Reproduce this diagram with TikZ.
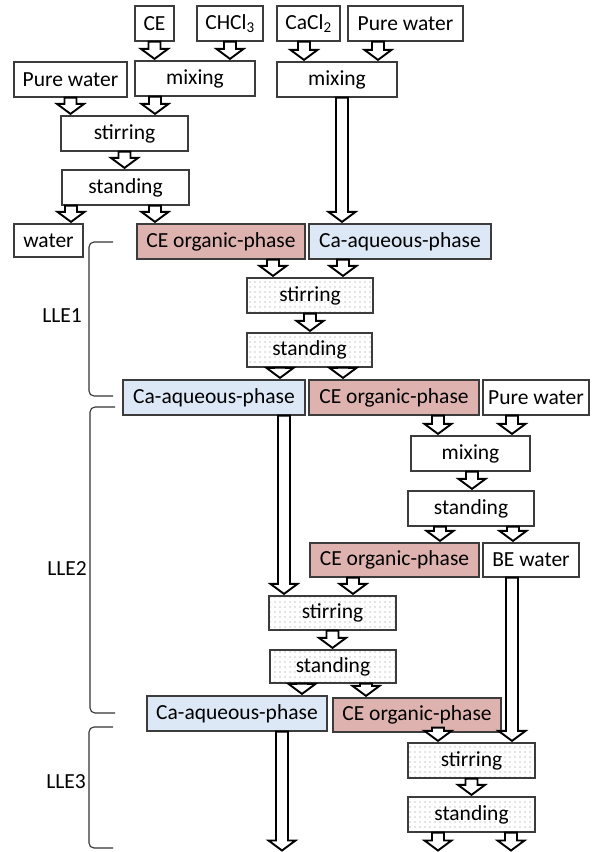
\documentclass[tikz,border=0pt]{standalone}
\usepackage{fontspec}
\setmainfont{Carlito}
\usetikzlibrary{calc,patterns.meta}
\definecolor{orgpink}{RGB}{222,179,175}
\definecolor{aqblue}{RGB}{220,232,246}
\definecolor{boxline}{RGB}{60,60,60}
\tikzset{
  box/.style={draw=boxline, line width=1.2pt, inner sep=0pt, anchor=center,
    font=\fontsize{21.5}{25}\selectfont, fill=white},
  dotbox/.style={box, fill=none, pattern={Dots[distance=5pt,radius=0.55pt]}, pattern color=black!45},
  orgbox/.style={box, fill=orgpink},
  aqbox/.style={box, fill=aqblue},
  lbl/.style={font=\fontsize{21.5}{25}\selectfont, inner sep=0pt},
  brace/.style={draw=black!80, line width=1.1pt, rounded corners=5pt},
  barrow/.style={draw=black, line width=1.9pt, fill=white, line join=miter,
    to path={let \p1=(\tikztostart), \p2=(\tikztotarget) in
      (\x1-6pt,\y1) -- (\x1-6pt,\y2+11.5pt) -- (\x1-13.5pt,\y2+11.5pt) -- (\x1,\y2+1.5pt)
      -- (\x1+13.5pt,\y2+11.5pt) -- (\x1+6pt,\y2+11.5pt) -- (\x1+6pt,\y1) -- cycle}},
}
\begin{document}
\begin{tikzpicture}[x=1pt,y=-1pt]
\useasboundingbox (0,0) rectangle (592,852);
% top
\node[box, minimum width=39pt, minimum height=35pt] (ce) at (154.5,23.5) {CE};
\node[box, minimum width=66pt, minimum height=35pt] (chcl) at (230,23.5) {CHCl\textsubscript{3}};
\node[box, minimum width=63pt, minimum height=35pt] (cacl) at (308.5,23.5) {CaCl\textsubscript{2}};
\node[box, minimum width=115pt, minimum height=35pt] (pw1) at (405.5,23.5) {Pure water};
\node[box, minimum width=113pt, minimum height=35pt] (pw0) at (70.5,79.5) {Pure water};
\node[box, minimum width=120pt, minimum height=35pt] (mix1) at (195,78.5) {mixing};
\node[box, minimum width=120pt, minimum height=35pt] (mix2) at (337,79.5) {mixing};
\node[box, minimum width=127pt, minimum height=35pt] (stir0) at (124.5,133.5) {stirring};
\node[box, minimum width=127pt, minimum height=35pt] (stand0) at (125.5,187.5) {standing};
\node[box, minimum width=69pt, minimum height=33pt] (water) at (48.5,240.5) {water};
% LLE1
\node[orgbox, minimum width=168pt, minimum height=35pt] (ceo1) at (221,241.5) {CE organic-phase};
\node[aqbox, minimum width=182pt, minimum height=35pt] (caq1) at (400,241.5) {Ca-aqueous-phase};
\node[dotbox, minimum width=126pt, minimum height=35pt] (stirA) at (310,295.5) {stirring};
\node[dotbox, minimum width=125pt, minimum height=34pt] (standA) at (309.5,350) {standing};
% LLE2
\node[aqbox, minimum width=182pt, minimum height=35pt] (caq2) at (214,397.5) {Ca-aqueous-phase};
\node[orgbox, minimum width=170pt, minimum height=35pt] (ceo2) at (394,397.5) {CE organic-phase};
\node[box, minimum width=106pt, minimum height=35pt] (pw2) at (536,397.5) {Pure water};
\node[box, minimum width=119pt, minimum height=35pt] (mixB) at (470.5,453.5) {mixing};
\node[box, minimum width=126pt, minimum height=35pt] (standB) at (471,508.5) {standing};
\node[orgbox, minimum width=169pt, minimum height=34pt] (ceo3) at (394.5,560) {CE organic-phase};
\node[box, minimum width=96pt, minimum height=34pt] (bew) at (531,560) {BE water};
\node[dotbox, minimum width=127pt, minimum height=34pt] (stirB) at (332.5,613) {stirring};
\node[dotbox, minimum width=126pt, minimum height=33pt] (standB2) at (333,666.5) {standing};
% LLE3
\node[aqbox, minimum width=180pt, minimum height=35pt] (caq3) at (237,713.5) {Ca-aqueous-phase};
\node[orgbox, minimum width=168pt, minimum height=34pt] (ceo4) at (417,715) {CE organic-phase};
\node[dotbox, minimum width=127pt, minimum height=35pt] (stirC) at (471.5,760.5) {stirring};
\node[dotbox, minimum width=127pt, minimum height=35pt] (standC) at (471.5,814.5) {standing};
\coordinate (o1) at (438,852);
\coordinate (o2) at (511,852);
\coordinate (o3) at (282,852);
% braces and labels
\draw[brace] (113,242) -- (89,242) -- (89,396) -- (113,396);
\draw[brace] (115,407) -- (90,407) -- (90,713) -- (115,713);
\draw[brace] (113,727) -- (89,727) -- (89,848) -- (113,848);
\node[lbl] (l1) at (62,316) {LLE1};
\node[lbl] (l2) at (67,569) {LLE2};
\node[lbl] (l3) at (66,782) {LLE3};
% arrows
\draw[barrow] (ce.south) to (mix1.north);
\draw[barrow] (chcl.south) to (mix1.north);
\draw[barrow] ([xshift=-4.5pt]cacl.south) to (mix2.north);
\draw[barrow] ([xshift=-27.5pt]pw1.south) to (mix2.north);
\draw[barrow] (pw0.south) to (stir0.north);
\draw[barrow] ([xshift=-40pt]mix1.south) to (stir0.north);
\draw[barrow] (stir0.south) to (stand0.north);
\draw[barrow] ([xshift=-54.5pt]stand0.south) to (water.north);
\draw[barrow] ([xshift=29.5pt]stand0.south) to (ceo1.north);
\draw[barrow] ([xshift=5pt]mix2.south) to (caq1.north);
\draw[barrow] ([xshift=52pt]ceo1.south) to (stirA.north);
\draw[barrow] ([xshift=-57pt]caq1.south) to (stirA.north);
\draw[barrow] (stirA.south) to (standA.north);
\draw[barrow] ([xshift=-29.5pt]standA.south) to (caq2.north);
\draw[barrow] ([xshift=33.5pt]standA.south) to (ceo2.north);
\draw[barrow] ([xshift=44pt]ceo2.south) to (mixB.north);
\draw[barrow] ([xshift=-24pt]pw2.south) to (mixB.north);
\draw[barrow] ([xshift=1.5pt]mixB.south) to (standB.north);
\draw[barrow] ([xshift=-31pt]standB.south) to (ceo3.north);
\draw[barrow] ([xshift=42pt]standB.south) to (bew.north);
\draw[barrow] ([xshift=70pt]caq2.south) to (stirB.north);
\draw[barrow] ([xshift=-41.5pt]ceo3.south) to (stirB.north);
\draw[barrow] (stirB.south) to (standB2.north);
\draw[barrow] ([xshift=-31pt]standB2.south) to (caq3.north);
\draw[barrow] ([xshift=33pt]standB2.south) to (ceo4.north);
\draw[barrow] ([xshift=21pt,yshift=5pt]ceo4.south) to (stirC.north);
\draw[barrow] ([xshift=-19pt]bew.south) to (stirC.north);
\draw[barrow] (stirC.south) to (standC.north);
\draw[barrow] ([xshift=-33.5pt]standC.south) to (o1);
\draw[barrow] ([xshift=39.5pt]standC.south) to (o2);
\draw[barrow] ([xshift=45pt]caq3.south) to (o3);
\end{tikzpicture}
\end{document}
